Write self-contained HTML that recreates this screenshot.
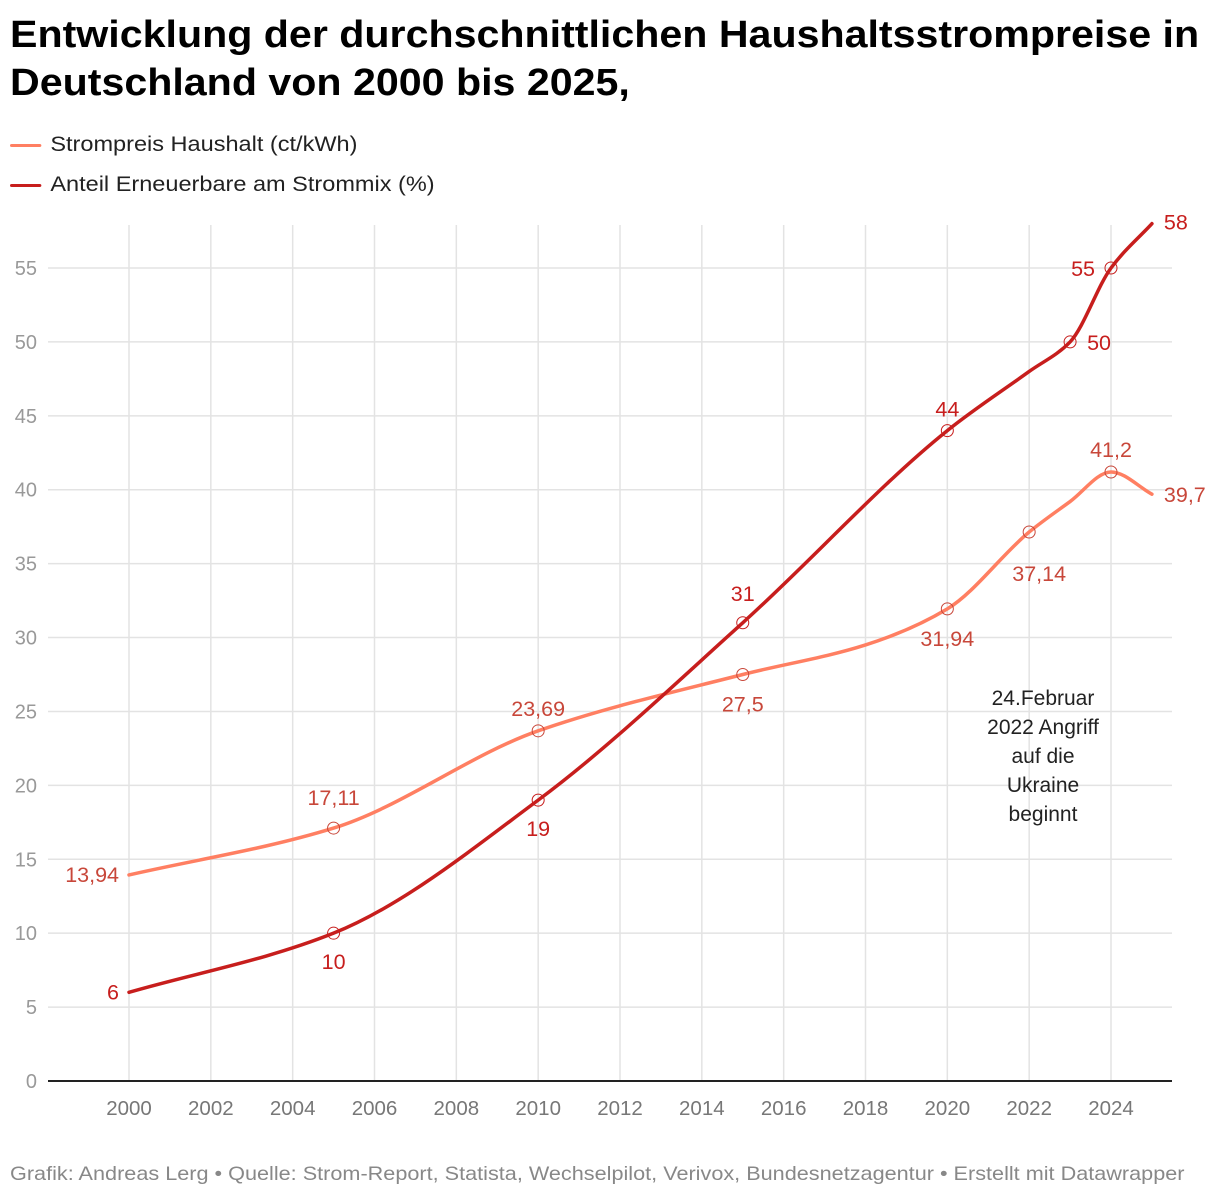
<!DOCTYPE html>
<html><head><meta charset="utf-8"><style>
body{margin:0;background:#fff;font-family:"Liberation Sans",sans-serif;}
#wrap{position:relative;width:1220px;height:1198px;overflow:hidden;}
h1{position:absolute;left:10px;top:11px;margin:0;font-size:38px;line-height:48px;font-weight:bold;color:#000;transform:scaleX(1.083);transform-origin:0 0;white-space:nowrap;}
.leg{position:absolute;left:10px;font-size:21px;color:#222;transform:scaleX(1.12);transform-origin:0 0;white-space:nowrap;}
.leg span{display:inline-block;width:28px;height:3px;vertical-align:middle;margin-right:8px;border-radius:2px;}
#foot{position:absolute;left:10px;top:1163px;font-size:19.5px;color:#888;transform:scaleX(1.11);transform-origin:0 0;white-space:nowrap;}
svg{position:absolute;left:0;top:0;}
</style></head><body><div id="wrap">
<h1>Entwicklung der durchschnittlichen Haushaltsstrompreise in<br>Deutschland von 2000 bis 2025,</h1>
<div class="leg" style="top:133px"><span style="background:#ff7f62"></span>Strompreis Haushalt (ct/kWh)</div>
<div class="leg" style="top:173px"><span style="background:#c71e1d"></span>Anteil Erneuerbare am Strommix (%)</div>
<svg id="svg" width="1220" height="1198"></svg>
<div id="foot">Grafik: Andreas Lerg • Quelle: Strom-Report, Statista, Wechselpilot, Verivox, Bundesnetzagentur • Erstellt mit Datawrapper</div>
</div>
<script>
const priceYears=[2000,2005,2010,2015,2018,2020,2022,2023,2024,2025];
const priceVals=[13.94,17.11,23.69,27.5,29.5,31.94,37.14,39.2,41.2,39.7];
const priceLabeled=[2000,2005,2010,2015,2020,2022,2024,2025];
const renewYears=[2000,2005,2010,2015,2020,2022,2023,2024,2025];
const renewVals=[6,10,19,31,44,48,50,55,58];
const renewLabeled=[2000,2005,2010,2015,2020,2023,2024,2025];
const yTicks=[0,5,10,15,20,25,30,35,40,45,50,55];
const xTicks=[2000,2002,2004,2006,2008,2010,2012,2014,2016,2018,2020,2022,2024];
const annotationLines=["24.Februar","2022 Angriff","auf die","Ukraine","beginnt"];

const NS="http://www.w3.org/2000/svg",svg=document.getElementById('svg');
const X=y=>129+(y-2000)*(982/24), Y=v=>1081-v*(813/55);
function el(t,a,p){const e=document.createElementNS(NS,t);for(const k in a)e.setAttribute(k,a[k]);(p||svg).appendChild(e);return e;}
function txt(s,x,y,a,fill,anchor,fs){const e=el('text',Object.assign({x:x,y:y,'font-size':fs||20,fill:fill,'text-anchor':anchor||'middle','font-family':'Liberation Sans, sans-serif'},a));e.textContent=s;return e;}
yTicks.forEach(v=>{if(v>0){const l=el('line',{x1:48,x2:1172,y1:Y(v),y2:Y(v),stroke:'#e3e3e3','stroke-width':1.5});

}
const t=txt(String(v),37,Y(v)+7,{},'#999','end',20);

});
xTicks.forEach(yr=>{const l=el('line',{x1:X(yr),x2:X(yr),y1:225,y2:1081,stroke:'#e3e3e3','stroke-width':1.5});


const t=txt(String(yr),X(yr),1115,{},'#777','middle',20.5);

});
const ax=el('line',{x1:48,x2:1172,y1:1081,y2:1081,stroke:'#222','stroke-width':2});


function mono(xs,ys){const n=xs.length,d=[],m=[];for(let i=0;i<n-1;i++)d.push((ys[i+1]-ys[i])/(xs[i+1]-xs[i]));
m[0]=d[0];m[n-1]=d[n-2];for(let i=1;i<n-1;i++){if(d[i-1]*d[i]<=0)m[i]=0;else{const h0=xs[i]-xs[i-1],h1=xs[i+1]-xs[i];m[i]=3*(h0+h1)/((2*h1+h0)/d[i-1]+(h1+2*h0)/d[i]);}}
let p='M'+xs[0]+','+ys[0];for(let i=0;i<n-1;i++){const h=(xs[i+1]-xs[i])/3;p+=`C${xs[i]+h},${ys[i]+m[i]*h} ${xs[i+1]-h},${ys[i+1]-m[i+1]*h} ${xs[i+1]},${ys[i+1]}`;}return p;}
function series(yrs,vals,labeled,color,lcol,name,offs){
const p=el('path',{d:mono(yrs.map(X),vals.map(Y)),fill:'none',stroke:color,'stroke-width':3.5,'stroke-linecap':'round'});


yrs.forEach((yr,i)=>{if(labeled.indexOf(yr)<0)return;const x=X(yr),y=Y(vals[i]);
if(yr!==2000&&yr!==2025){const c=el('circle',{cx:x,cy:y,r:6,fill:'none',stroke:lcol,'stroke-width':1});

}
const o=offs[yr];const t=txt(String(vals[i]).replace('.',','),x+o[0],y+o[1],{},lcol,o[2]||'middle',21.5);

});}
series(priceYears,priceVals,priceLabeled,'#ff7f62','#c8473a','price',{2000:[-10,7,'end'],2005:[0,-23],2010:[0,-15],2015:[0,37],2020:[0,37],2022:[10,49],2024:[0,-15],2025:[12,8,'start']});
series(renewYears,renewVals,renewLabeled,'#c71e1d','#c71e1d','renewables',{2000:[-10,7,'end'],2005:[0,36],2010:[0,36],2015:[0,-22],2020:[0,-14],2023:[17,8,'start'],2024:[-16,8,'end'],2025:[12,6,'start']});
annotationLines.forEach((s,i)=>{const t=txt(s,1043,705+i*29,{},'#222','middle',21);

});
</script></body></html>
